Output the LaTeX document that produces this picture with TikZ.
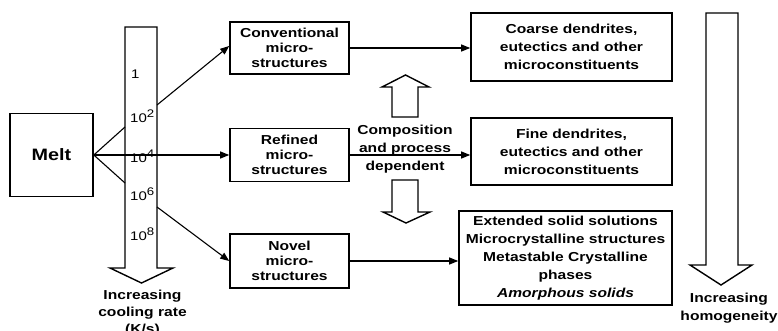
\documentclass[tikz,border=0pt]{standalone}
\usepackage{fontspec}
\setmainfont{Liberation Sans}[FakeStretch=1.2]
\usetikzlibrary{arrows.meta}
\newcommand{\pw}[1]{10\raisebox{4.5pt}{\fontsize{11}{11}\selectfont #1}}
\begin{document}
\begin{tikzpicture}[x=1pt,y=-1pt,
  box/.style={draw,line width=1.6pt,inner sep=0pt,align=center,
     font=\bfseries\fontsize{13}{15}\selectfont},
  rbox/.style={box,font=\bfseries\fontsize{13}{18}\selectfont},
  conn/.style={line width=1.1pt},
  arr/.style={conn,-{Triangle[length=9pt,width=7pt]}},
  hollow/.style={draw,line width=1.4pt,fill=white,line join=miter},
  lab/.style={inner sep=0pt,align=center,font=\bfseries\fontsize{13}{18}\selectfont},
  num/.style={inner sep=0pt,anchor=base west,font=\fontsize{12.5}{13}\selectfont}]
\useasboundingbox (0,0) rectangle (778,330);
% big cooling-rate arrow
\draw[hollow] (125,27) -- (157,27) -- (157,268) -- (173,268) -- (141.5,283) -- (110,268) -- (125,268) -- cycle;
% homogeneity arrow
\draw[hollow] (706,13) -- (738,13) -- (738,265) -- (752,265) -- (721,285) -- (690,265) -- (706,265) -- cycle;
% composition arrows
\draw[hollow] (392,117) -- (392,87) -- (382,87) -- (405.5,75) -- (429,87) -- (418,87) -- (418,117) -- cycle;
\draw[hollow] (392,180) -- (418,180) -- (418,212) -- (430,212) -- (406,223) -- (383,212) -- (392,212) -- cycle;

\node[box,minimum width=83pt,minimum height=83pt,font=\bfseries\fontsize{16.5}{18}\selectfont] (melt) at (51.5,155) {Melt};
\node[box,minimum width=119pt,minimum height=52pt] (conv) at (289.5,48) {Conventional\\micro-\\structures};
\node[box,minimum width=119pt,minimum height=53pt] (ref) at (289.5,155) {Refined\\micro-\\structures};
\node[box,minimum width=119pt,minimum height=54pt] (nov) at (289.5,261) {Novel\\micro-\\structures};
\node[rbox,minimum width=201pt,minimum height=68pt] (coarse) at (571.5,47) {Coarse dendrites,\\eutectics and other\\microconstituents};
\node[rbox,minimum width=201pt,minimum height=67pt] (fine) at (571.5,151.5) {Fine dendrites,\\eutectics and other\\microconstituents};
\node[rbox,minimum width=213pt,minimum height=94pt] (ext) at (565.5,258) {Extended solid solutions\\Microcrystalline structures\\Metastable Crystalline\\phases\\\textit{Amorphous solids}};

\node[lab] (comp) at (405,149) {Composition\\and process\\dependent};

\node[num] (r0) at (131,78) {1};
\node[num] (r2) at (130,122) {\pw{2}};
\node[num] (r4) at (130,162) {\pw{4}};
\node[num] (r6) at (130,200) {\pw{6}};
\node[num] (r8) at (130,240) {\pw{8}};

\node[lab,anchor=base,font=\bfseries\fontsize{13}{17}\selectfont] (cool) at (142.5,333) {Increasing\\cooling rate\\(K/s)};
\node[lab,anchor=base,font=\bfseries\fontsize{13}{18}\selectfont] (hom) at (729,320) {Increasing\\homogeneity};

\coordinate (m1) at (125,127);
\coordinate (m2) at (125,183);
\coordinate (s1) at (157,105);
\coordinate (s2) at (157,207);

\draw[conn] (melt.east) -- (m1);
\draw[conn] (melt.east) -- (m2);
\draw[arr] (melt.east) -- (ref.west);
\draw[arr] (s1) -- ([yshift=2pt]conv.west);
\draw[arr] (s2) -- (nov.west);
\draw[arr] (conv.east) -- (conv.east -| coarse.west);
\draw[arr] (ref.east) -- (ref.east -| fine.west);
\draw[arr] (nov.east) -- (nov.east -| ext.west);
\end{tikzpicture}
\end{document}
